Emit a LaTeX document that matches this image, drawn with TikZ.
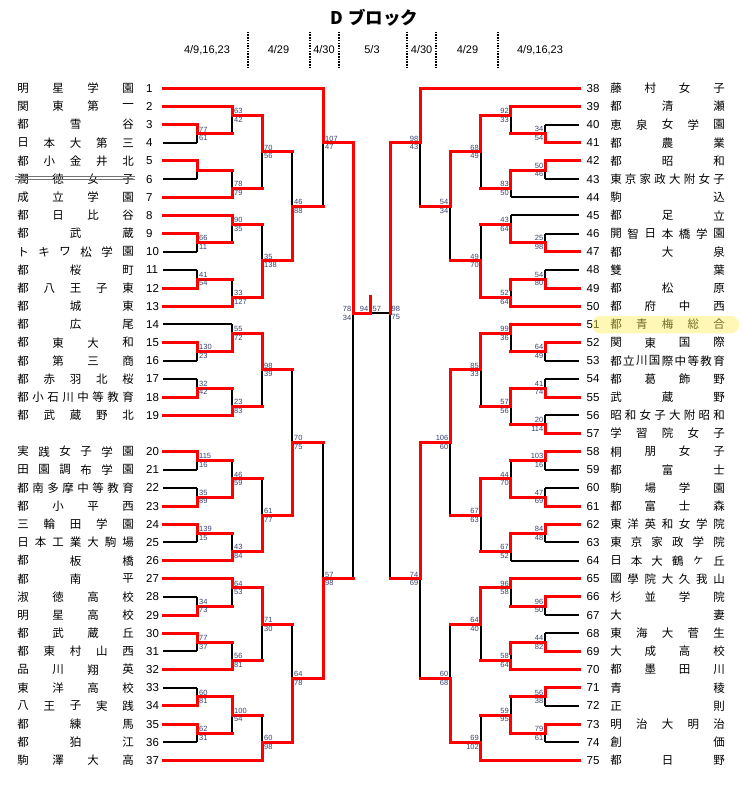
\documentclass[tikz,border=0pt]{standalone}
\usepackage{fontspec}
\newfontfamily\jp{Noto Sans CJK JP}
\newfontfamily\ar{Liberation Sans}
\pgfdeclarelayer{blk}
\pgfsetlayers{blk,main}
\definecolor{scc}{RGB}{55,65,110}
\definecolor{hl}{RGB}{255,238,90}
\tikzset{
 win/.style={draw=red,line width=3pt,line cap=rect},
 lose/.style={draw=black,line width=2pt},
 nm/.style={font=\jp\fontsize{11.5}{12}\selectfont,inner sep=0pt},
 num/.style={font=\ar\fontsize{11.5}{12}\selectfont,inner sep=0pt,anchor=west},
 sc/.style={font=\ar\fontsize{7.5}{8}\selectfont,inner sep=0pt,text=scc},
 dt/.style={font=\ar\fontsize{11}{12}\selectfont,inner sep=0pt},
 sepline/.style={draw=black,line width=1.2pt,dash pattern=on 1.5pt off 1.2pt},
 strk/.style={draw=black!55,line width=0.8pt},
}
\newcommand\blk[1]{\begin{pgfonlayer}{blk}#1\end{pgfonlayer}}
% left match: x, xnext, ktop, kbot, kout, winner(t/b), score top, score bottom
\newcommand\LM[8]{%
 \if t#6
  \blk{\draw[lose] (#1,#5)--(#1,#4);}%
  \draw[win] (#1,#3)--(#1,#5)--(#2,#5);%
 \else
  \blk{\draw[lose] (#1,#3)--(#1,#5);}%
  \draw[win] (#1,#4)--(#1,#5)--(#2,#5);%
 \fi
 \if\relax\detokenize{#7}\relax\else
  \node[sc,anchor=south west] at ([xshift=2pt,yshift=1.5pt]#1,#5) {#7};%
  \node[sc,anchor=north west] at ([xshift=2pt,yshift=-1.5pt]#1,#5) {#8};%
 \fi
}
% right match
\newcommand\RM[8]{%
 \if t#6
  \blk{\draw[lose] (#1,#5)--(#1,#4);}%
  \draw[win] (#1,#3)--(#1,#5)--(#2,#5);%
 \else
  \blk{\draw[lose] (#1,#3)--(#1,#5);}%
  \draw[win] (#1,#4)--(#1,#5)--(#2,#5);%
 \fi
 \node[sc,anchor=south east] at ([xshift=-1.5pt,yshift=1.5pt]#1,#5) {#7};%
 \node[sc,anchor=north east] at ([xshift=-1.5pt,yshift=-1.5pt]#1,#5) {#8};%
}
% left team: number, k, xend, w/l, nchars, chars
\newcommand\LT[6]{%
 \node[num] (t#1) at (146,#2) {#1};%
 \foreach \ch [count=\ii] in {#6} {\node[nm] (t#1c\ii) at ({23+(\ii-1)*105/(#5-1)},#2) {\ch};}%
 \if w#4 \draw[win] (163,#2)--(#3,#2);\else \blk{\draw[lose] (163,#2)--(#3,#2);}\fi
}
% right team
\newcommand\RT[6]{%
 \node[num] (t#1) at (586.5,#2) {#1};%
 \foreach \ch [count=\ii] in {#6} {\node[nm] (t#1c\ii) at ({616+(\ii-1)*103/(#5-1)},#2) {\ch};}%
 \if w#4 \draw[win] (579,#2)--(#3,#2);\else \blk{\draw[lose] (579,#2)--(#3,#2);}\fi
}
\begin{document}
\begin{tikzpicture}[x=1pt,y=-9.083pt]
\useasboundingbox (0,-9.722) rectangle (742,76.922);
% header
\node[font=\jp\bfseries\fontsize{17.5}{19}\selectfont,inner sep=0pt] (title) at (374,-7.74) {D\hspace{0.3em}ブロック};
\node[dt] (d1) at (207,-4.217) {4/9,16,23};
\node[dt] (d2) at (278.5,-4.217) {4/29};
\node[dt] (d3) at (324,-4.217) {4/30};
\node[dt] (d4) at (372,-4.217) {5/3};
\node[dt] (d5) at (421.6,-4.217) {4/30};
\node[dt] (d6) at (467.5,-4.217) {4/29};
\node[dt] (d7) at (540,-4.217) {4/9,16,23};
\foreach \xx in {248,310,339,407,436,498} \draw[sepline] (\xx,-6.23)--(\xx,-2.2);
% left teams
\LT{1}{0}{323}{w}{4}{明,星,学,園}
\LT{2}{2}{232}{w}{4}{関,東,第,一}
\LT{3}{4}{197}{w}{3}{都,雪,谷}
\LT{4}{6}{197}{l}{5}{日,本,大,第,三}
\LT{5}{8}{197}{w}{5}{都,小,金,井,北}
\LT{6}{10}{197}{l}{4}{潤,徳,女,子}
\LT{7}{12}{232}{w}{4}{成,立,学,園}
\LT{8}{14}{232}{w}{4}{都,日,比,谷}
\LT{9}{16}{197}{w}{3}{都,武,蔵}
\LT{10}{18}{197}{l}{6}{ト,キ,ワ,松,学,園}
\LT{11}{20}{197}{l}{3}{都,桜,町}
\LT{12}{22}{197}{w}{5}{都,八,王,子,東}
\LT{13}{24}{232}{w}{3}{都,城,東}
\LT{14}{26}{232}{l}{3}{都,広,尾}
\LT{15}{28}{197}{w}{4}{都,東,大,和}
\LT{16}{30}{197}{l}{4}{都,第,三,商}
\LT{17}{32}{197}{l}{5}{都,赤,羽,北,桜}
\LT{18}{34}{197}{w}{8}{都,小,石,川,中,等,教,育}
\LT{19}{36}{232}{w}{5}{都,武,蔵,野,北}
\LT{20}{40}{197}{w}{6}{実,践,女,子,学,園}
\LT{21}{42}{197}{l}{6}{田,園,調,布,学,園}
\LT{22}{44}{197}{l}{8}{都,南,多,摩,中,等,教,育}
\LT{23}{46}{197}{w}{4}{都,小,平,西}
\LT{24}{48}{197}{w}{5}{三,輪,田,学,園}
\LT{25}{50}{197}{l}{7}{日,本,工,業,大,駒,場}
\LT{26}{52}{232}{w}{3}{都,板,橋}
\LT{27}{54}{232}{w}{3}{都,南,平}
\LT{28}{56}{197}{l}{4}{淑,徳,高,校}
\LT{29}{58}{197}{w}{4}{明,星,高,校}
\LT{30}{60}{197}{w}{4}{都,武,蔵,丘}
\LT{31}{62}{197}{l}{5}{都,東,村,山,西}
\LT{32}{64}{232}{w}{4}{品,川,翔,英}
\LT{33}{66}{197}{l}{4}{東,洋,高,校}
\LT{34}{68}{197}{w}{5}{八,王,子,実,践}
\LT{35}{70}{197}{w}{3}{都,練,馬}
\LT{36}{72}{197}{l}{3}{都,狛,江}
\LT{37}{74}{262}{w}{4}{駒,澤,大,高}
\draw[strk] (15,9.69)--(135,9.69) (15,10.02)--(135,10.02);
% right teams
\RT{38}{0}{420}{w}{4}{藤,村,女,子}
\RT{39}{2}{510.5}{w}{3}{都,清,瀬}
\RT{40}{4}{545}{l}{5}{恵,泉,女,学,園}
\RT{41}{6}{545}{w}{3}{都,農,業}
\RT{42}{8}{545}{w}{3}{都,昭,和}
\RT{43}{10}{545}{l}{8}{東,京,家,政,大,附,女,子}
\RT{44}{12}{510.5}{l}{2}{駒,込}
\RT{45}{14}{510.5}{l}{3}{都,足,立}
\RT{46}{16}{545}{l}{7}{開,智,日,本,橋,学,園}
\RT{47}{18}{545}{w}{3}{都,大,泉}
\RT{48}{20}{545}{l}{2}{雙,葉}
\RT{49}{22}{545}{w}{3}{都,松,原}
\RT{50}{24}{510.5}{w}{4}{都,府,中,西}
\RT{51}{26}{510.5}{w}{5}{都,青,梅,総,合}
\RT{52}{28}{545}{w}{4}{関,東,国,際}
\RT{53}{30}{545}{l}{9}{都,立,川,国,際,中,等,教,育}
\RT{54}{32}{545}{l}{4}{都,葛,飾,野}
\RT{55}{34}{545}{w}{3}{武,蔵,野}
\RT{56}{36}{545}{l}{8}{昭,和,女,子,大,附,昭,和}
\RT{57}{38}{545}{w}{5}{学,習,院,女,子}
\RT{58}{40}{545}{w}{4}{桐,朋,女,子}
\RT{59}{42}{545}{l}{3}{都,富,士}
\RT{60}{44}{545}{l}{4}{駒,場,学,園}
\RT{61}{46}{545}{w}{4}{都,富,士,森}
\RT{62}{48}{545}{w}{7}{東,洋,英,和,女,学,院}
\RT{63}{50}{545}{l}{6}{東,京,家,政,学,院}
\RT{64}{52}{510.5}{l}{6}{日,本,大,鶴,ヶ,丘}
\RT{65}{54}{510.5}{w}{7}{國,學,院,大,久,我,山}
\RT{66}{56}{545}{w}{4}{杉,並,学,院}
\RT{67}{58}{545}{l}{2}{大,妻}
\RT{68}{60}{545}{l}{5}{東,海,大,菅,生}
\RT{69}{62}{545}{w}{4}{大,成,高,校}
\RT{70}{64}{510.5}{w}{4}{都,墨,田,川}
\RT{71}{66}{545}{w}{2}{青,稜}
\RT{72}{68}{545}{l}{2}{正,則}
\RT{73}{70}{545}{w}{5}{明,治,大,明,治}
\RT{74}{72}{545}{l}{2}{創,価}
\RT{75}{74}{480.5}{w}{3}{都,日,野}
% left matches
\LM{197}{232}{4}{6}{5}{t}{77}{61}
\LM{197}{232}{8}{10}{9}{t}{}{}
\LM{197}{232}{16}{18}{17}{t}{66}{11}
\LM{197}{232}{20}{22}{21}{b}{41}{54}
\LM{197}{232}{28}{30}{29}{t}{130}{23}
\LM{197}{232}{32}{34}{33}{b}{32}{42}
\LM{197}{232}{40}{42}{41}{t}{115}{16}
\LM{197}{232}{44}{46}{45}{b}{35}{89}
\LM{197}{232}{48}{50}{49}{t}{139}{15}
\LM{197}{232}{56}{58}{57}{b}{34}{73}
\LM{197}{232}{60}{62}{61}{t}{77}{37}
\LM{197}{232}{66}{68}{67}{b}{60}{81}
\LM{197}{232}{70}{72}{71}{t}{62}{31}
\LM{232}{262}{2}{5}{3}{t}{63}{42}
\LM{232}{262}{9}{12}{11}{b}{78}{79}
\LM{232}{262}{14}{17}{15}{t}{90}{35}
\LM{232}{262}{21}{24}{23}{b}{33}{127}
\LM{232}{262}{26}{29}{27}{b}{55}{72}
\LM{232}{262}{33}{36}{35}{b}{23}{83}
\LM{232}{262}{41}{45}{43}{b}{46}{59}
\LM{232}{262}{49}{52}{51}{b}{43}{84}
\LM{232}{262}{54}{57}{55}{t}{64}{53}
\LM{232}{262}{61}{64}{63}{b}{56}{81}
\LM{232}{262}{67}{71}{69}{t}{100}{54}
\LM{262}{292}{3}{11}{7}{t}{70}{56}
\LM{262}{292}{15}{23}{19}{b}{35}{138}
\LM{262}{292}{27}{35}{31}{t}{98}{39}
\LM{262}{292}{43}{51}{47}{b}{61}{77}
\LM{262}{292}{55}{63}{59}{t}{71}{30}
\LM{262}{292}{69}{74}{72}{b}{60}{98}
\LM{292}{323}{7}{19}{13}{b}{46}{88}
\LM{292}{323}{31}{47}{39}{b}{70}{75}
\LM{292}{323}{59}{72}{65}{b}{64}{78}
\LM{323}{353}{0}{13}{6}{t}{107}{47}
\LM{323}{353}{39}{65}{54}{b}{57}{98}
% right matches
\RM{545}{510.5}{4}{6}{5}{b}{34}{54}
\RM{545}{510.5}{8}{10}{9}{t}{50}{46}
\RM{545}{510.5}{16}{18}{17}{b}{25}{98}
\RM{545}{510.5}{20}{22}{21}{b}{54}{80}
\RM{545}{510.5}{28}{30}{29}{t}{64}{49}
\RM{545}{510.5}{32}{34}{33}{b}{41}{74}
\RM{545}{510.5}{36}{38}{37}{b}{20}{114}
\RM{545}{510.5}{40}{42}{41}{t}{103}{16}
\RM{545}{510.5}{44}{46}{45}{b}{47}{69}
\RM{545}{510.5}{48}{50}{49}{t}{84}{48}
\RM{545}{510.5}{56}{58}{57}{t}{96}{50}
\RM{545}{510.5}{60}{62}{61}{b}{44}{82}
\RM{545}{510.5}{66}{68}{67}{t}{56}{38}
\RM{545}{510.5}{70}{72}{71}{t}{79}{61}
\RM{510.5}{480.5}{2}{5}{3}{t}{92}{33}
\RM{510.5}{480.5}{9}{12}{11}{t}{83}{50}
\RM{510.5}{480.5}{14}{17}{15}{b}{43}{64}
\RM{510.5}{480.5}{21}{24}{23}{b}{52}{64}
\RM{510.5}{480.5}{26}{29}{27}{t}{99}{36}
\RM{510.5}{480.5}{33}{37}{35}{t}{57}{56}
\RM{510.5}{480.5}{41}{45}{43}{b}{44}{70}
\RM{510.5}{480.5}{49}{52}{51}{t}{67}{52}
\RM{510.5}{480.5}{54}{57}{55}{t}{96}{58}
\RM{510.5}{480.5}{61}{64}{63}{b}{58}{64}
\RM{510.5}{480.5}{67}{71}{69}{b}{59}{95}
\draw[win] (510.5,21)--(510.5,22.2);
\draw[win] (510.5,61)--(510.5,62.2);
\RM{480.5}{450}{3}{11}{7}{t}{68}{49}
\RM{480.5}{450}{15}{23}{19}{b}{49}{70}
\RM{480.5}{450}{27}{35}{31}{t}{85}{33}
\RM{480.5}{450}{43}{51}{47}{t}{67}{63}
\RM{480.5}{450}{55}{63}{59}{t}{64}{40}
\RM{480.5}{450}{69}{74}{72}{b}{69}{102}
\RM{450}{420}{7}{19}{13}{t}{54}{34}
\RM{450}{420}{31}{47}{39}{t}{106}{60}
\RM{450}{420}{59}{72}{65}{b}{60}{68}
\RM{420}{390}{0}{13}{6}{t}{98}{43}
\RM{420}{390}{39}{65}{54}{t}{74}{69}
% semifinals and final
\blk{\draw[lose] (353,24.75)--(353,54);}
\draw[win] (353,6)--(353,24.75)--(370.5,24.75)--(370.5,22.87);
\blk{\draw[lose] (390,24.75)--(390,54); \draw[lose] (390,24.75)--(370.5,24.75);}
\draw[win] (390,6)--(390,24.75);
\node[sc,anchor=south east] at ([xshift=-1.5pt,yshift=1.5pt]353,24.75) {78};
\node[sc,anchor=north east] at ([xshift=-1.5pt,yshift=-1.5pt]353,24.75) {34};
\node[sc,anchor=south west] at ([xshift=1.5pt,yshift=1.5pt]390,24.75) {98};
\node[sc,anchor=north west] at ([xshift=1.5pt,yshift=-1.5pt]390,24.75) {75};
\node[sc,anchor=south east] at ([xshift=-2pt,yshift=1.5pt]370.5,24.75) {94};
\node[sc,anchor=south west] at ([xshift=2pt,yshift=1.5pt]370.5,24.75) {57};
% highlight
\fill[hl,fill opacity=0.45,rounded corners=8pt] (592,25.07) rectangle (739,26.97);
\end{tikzpicture}
\end{document}
